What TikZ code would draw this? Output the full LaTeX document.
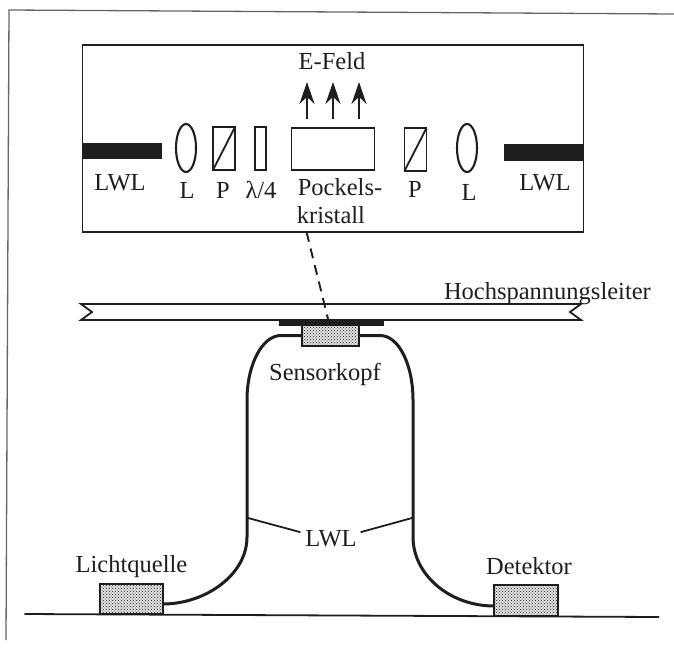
\documentclass[tikz,border=0pt]{standalone}
\usepackage{fontspec}
\setmainfont{Liberation Serif}
\usetikzlibrary{arrows.meta,shapes.geometric,patterns}
\definecolor{ink}{HTML}{1E1E1E}
\tikzset{
  every node/.style={inner sep=0pt,outer sep=0pt},
  lab/.style={anchor=base,font=\fontsize{24.5}{28}\selectfont,text=ink},
  optic/.style={draw=ink,line width=1.9pt,rectangle},
  lens/.style={draw=ink,line width=2.1pt,ellipse,minimum width=20pt,minimum height=48pt},
  fibrebar/.style={fill=ink,rectangle,minimum width=79pt,minimum height=16.5pt},
  stipple/.style={draw=ink,line width=1.4pt,rectangle,preaction={fill=black!12},pattern=crosshatch dots,pattern color=black!85},
  thin line/.style={draw=ink,line width=1.8pt},
  fibre/.style={draw=ink,line width=3pt},
  field/.style={draw=ink,line width=1.6pt,-{Stealth[length=22pt,width=15pt]}}
}
\begin{document}
\begin{tikzpicture}[x=1pt,y=-1pt]
\useasboundingbox (0,0) rectangle (674,653);
% outer frame
\coordinate (fa) at (6,640); \coordinate (fb) at (9,10); \coordinate (fc) at (674,14);
\draw[draw=black!60,line width=1.3pt] (fa) -- (fb) -- (fc);
% detail box
\node[draw=ink,line width=1.9pt,rectangle,minimum width=501pt,minimum height=187pt] (box) at (333,138.5) {};
\node[fibrebar] (barL) at (122.5,151) {};
\node[fibrebar] (barR) at (543.5,152.5) {};
\node[lens] (lensL) at (186,148) {};
\node[lens] (lensR) at (467,148) {};
\node[optic,minimum width=22pt,minimum height=43pt] (polL) at (224,148.5) {};
\node[optic,minimum width=11pt,minimum height=43pt] (wave) at (260.5,148.5) {};
\node[optic,minimum width=83pt,minimum height=42pt] (cryst) at (333,149) {};
\node[optic,minimum width=22pt,minimum height=43pt] (polR) at (415.5,149.5) {};
\draw[thin line] (polL.south west) -- (polL.north east);
\draw[thin line] (polR.south west) -- (polR.north east);
% field arrows
\coordinate (a1) at (307,119); \coordinate (a1t) at (307,82);
\coordinate (a2) at (333,119); \coordinate (a2t) at (333,82);
\coordinate (a3) at (359,119); \coordinate (a3t) at (359,82);
\draw[field] (a1) -- (a1t);
\draw[field] (a2) -- (a2t);
\draw[field] (a3) -- (a3t);
% labels in the box
\node[lab] (efeld) at (332,69) {E-Feld};
\node[lab] (lwlA) at (120,190) {LWL};
\node[lab] (lA) at (187,198) {L};
\node[lab] (pA) at (223,198) {P};
\node[lab] (lam) at (261,198) {λ/4};
\node[lab] (pock) at (340,195) {Pockels-};
\node[lab] (krist) at (331,223) {kristall};
\node[lab] (pB) at (415,197) {P};
\node[lab] (lB) at (469,200) {L};
\node[lab] (lwlB) at (545,190) {LWL};
% conductor
\coordinate (c1) at (81,304); \coordinate (c2) at (92,312); \coordinate (c3) at (81,320);
\coordinate (c4) at (581,304); \coordinate (c5) at (570,312); \coordinate (c6) at (581,320);
\draw[thin line,line join=miter] (c1) -- (c4) -- (c5) -- (c6) -- (c3) -- (c2) -- cycle;
\node[lab,anchor=base west] (hsl) at (444,299) {Hochspannungsleiter};
% sensor
\node[fill=ink,rectangle,minimum width=105pt,minimum height=5.5pt] (strip) at (331,323) {};
\node[stipple,minimum width=57pt,minimum height=21pt] (sens) at (330.5,335.5) {};
\coordinate (dashEnd) at (331,331);
\draw[draw=ink,line width=1.9pt,dash pattern=on 10pt off 7pt] (306.5,232) -- (dashEnd);
\node[lab] (skopf) at (325,380) {Sensorkopf};
% ground
\coordinate (g1) at (24.5,614); \coordinate (g2) at (659,617);
\draw[thin line] (g1) -- (g2);
\node[stipple,minimum width=63pt,minimum height=30pt] (src) at (131.5,599) {};
\node[stipple,minimum width=64pt,minimum height=31pt] (det) at (526,600.5) {};
\node[lab] (srcl) at (131.5,572) {Lichtquelle};
\node[lab] (detl) at (529,574) {Detektor};
% fibres
\draw[fibre] (sens.west) -- (281,335.5) .. controls (262,335.5) and (247,365) .. (247,400) -- (247,537) .. controls (247,575) and (205,604) .. (src.east |- 0,604);
\draw[fibre] (sens.east) -- (380,335.5) .. controls (399,335.5) and (413,365) .. (413,400) -- (413,537) .. controls (413,575) and (450,606) .. (det.west |- 0,606);
% LWL leaders
\node[lab] (lwlC) at (331,546) {LWL};
\coordinate (tl) at (248,518); \coordinate (tr) at (412,518);
\draw[thin line] (tl) -- ([xshift=-5pt,yshift=6pt]lwlC.west);
\draw[thin line] (tr) -- ([xshift=4pt,yshift=6pt]lwlC.east);
\end{tikzpicture}
\end{document}
